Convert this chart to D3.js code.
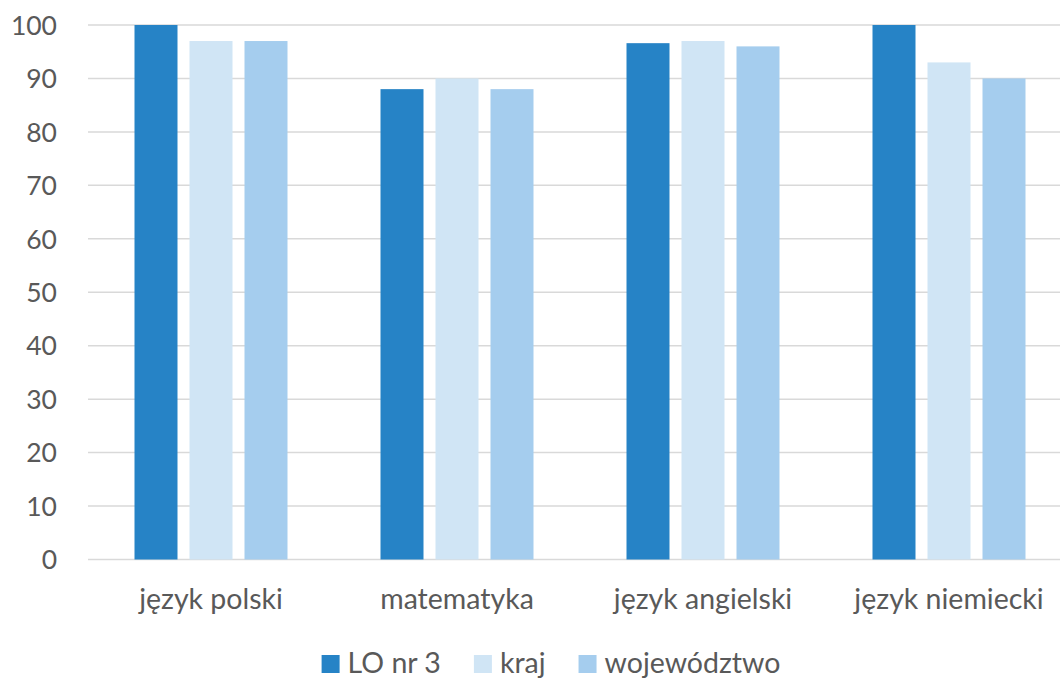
<!DOCTYPE html>
<html><head><meta charset="utf-8">
<script src="https://cdn.jsdelivr.net/npm/d3@7/dist/d3.min.js"></script>
<style>body{margin:0;background:#fff}svg{display:block}text{font-family:Lato,"Open Sans",sans-serif;fill:#595959}</style>
</head><body><svg id="c" width="1060" height="679"></svg>
<script>
const categories = ["język polski","matematyka","język angielski","język niemiecki"];
const seriesNames = ["LO nr 3","kraj","województwo"];
const loValues = [100, 88, 96.6, 100];
const krajValues = [97, 90, 97, 93];
const wojValues = [97, 88, 96, 90];
const yTicks = [0,10,20,30,40,50,60,70,80,90,100];
const colors = ["#2683C6","#D0E5F5","#A5CDEE"];
const series = [loValues, krajValues, wojValues];

(function(){
const svg = d3.select("#c");
const pl = 88, pr = 1072, pt = 25, pb = 559.5;
const x = d3.scaleBand().domain(categories).range([pl, pr]).paddingInner(0).paddingOuter(0);
const y = d3.scaleLinear().domain([0,100]).range([pb, pt]);

svg.append("g").selectAll("line").data(yTicks).join("line")
  .attr("x1", pl).attr("x2", pr)
  .attr("y1", d=>y(d)).attr("y2", d=>y(d))
  .attr("stroke", "#D9D9D9").attr("stroke-width", 1.5);

const yAxis = d3.axisLeft(y).tickValues(yTicks).tickSize(0).tickPadding(0);
const ga = svg.append("g").attr("transform", `translate(57,0)`).call(yAxis);
ga.select(".domain").remove();
ga.selectAll("text").attr("font-size", 26.5).style("font-family","Lato").attr("fill","#595959").attr("dy","0.35em");

const barW = 43, gap = 12;
const groupW = 3*barW + 2*gap;
const g = svg.append("g");
series.forEach((vals, si) => {
  g.selectAll(".s"+si).data(vals).join("rect").attr("class","s"+si)
    .attr("x", (d,i) => x(categories[i]) + x.bandwidth()/2 - groupW/2 + si*(barW+gap))
    .attr("y", d => y(d))
    .attr("width", barW)
    .attr("height", d => y(0) - y(d))
    .attr("fill", colors[si]);
});

const xAxis = d3.axisBottom(x).tickSize(0).tickPadding(0);
const gx = svg.append("g").attr("transform", `translate(0,${pb})`).call(xAxis);
gx.select(".domain").remove();
gx.selectAll("text").attr("font-size", 28.5).style("font-family","Lato").attr("fill","#595959").attr("dy", 0).attr("y", 49);

const leg = svg.append("g");
const items = leg.selectAll("g").data(seriesNames).join("g");
items.append("rect").attr("width", 18).attr("height", 18).attr("y", 655).attr("fill", (d,i)=>colors[i]);
items.append("text").attr("x", 26).attr("y", 673).attr("font-size", 28.5).text(d=>d);
let widths = [];
items.each(function(){ widths.push(26 + this.querySelector("text").getComputedTextLength()); });
const itemGap = 33;
const total = d3.sum(widths) + itemGap*(widths.length-1);
let cx = 551 - total/2;
items.each(function(d,i){ d3.select(this).attr("transform", `translate(${cx},0)`); cx += widths[i] + itemGap; });
})();
</script></body></html>
